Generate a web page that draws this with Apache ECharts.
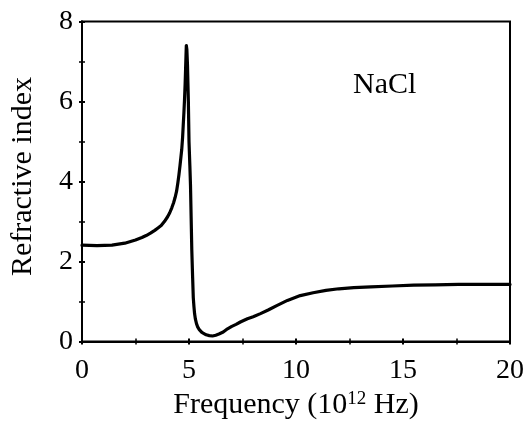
<!DOCTYPE html>
<html>
<head>
<meta charset="utf-8">
<script src="https://cdn.jsdelivr.net/npm/echarts@6/dist/echarts.min.js"></script>
<style>
html,body{margin:0;padding:0;background:#fff;}
#chart{width:527px;height:425px;}
</style>
</head>
<body>
<div id="chart"></div>
<script>
const freq = [0, 0.7, 1.4, 2.0, 2.5, 2.8, 3.0, 3.2, 3.4, 3.55, 3.7, 3.85, 4.0, 4.1, 4.2, 4.28, 4.35, 4.42, 4.48, 4.53, 4.58, 4.62, 4.66,
  4.7, 4.73, 4.76, 4.79, 4.82, 4.84, 4.86, 4.875,
  4.9, 4.93, 4.97, 5.0, 5.04, 5.07, 5.1, 5.13, 5.17, 5.2, 5.23, 5.26, 5.3, 5.35, 5.41, 5.48, 5.6, 5.8, 5.95, 6.1, 6.25, 6.4, 6.6, 6.8, 7.0, 7.2, 7.4, 7.73, 8.0, 8.34, 8.7, 9.1, 9.6,
  10.2, 10.8, 11.4, 12.0, 12.7, 13.5, 14.5, 15.5, 16.5, 17.6, 18.8, 20];
const refIndex = [2.41, 2.40, 2.41, 2.46, 2.54, 2.60, 2.65, 2.71, 2.78, 2.84, 2.90, 3.00, 3.12, 3.22, 3.35, 3.47, 3.60, 3.76, 3.97, 4.17, 4.40, 4.60, 4.80,
  5.10, 5.40, 5.70, 6.04, 6.45, 6.80, 7.15, 7.40,
  7.30, 6.90, 6.00, 5.00, 4.40, 3.90, 3.10, 2.30, 1.60, 1.10, 0.88, 0.70, 0.56, 0.45, 0.36, 0.30, 0.23, 0.17, 0.15, 0.14, 0.16, 0.19, 0.24, 0.32, 0.38, 0.43, 0.49, 0.57, 0.62, 0.70, 0.79, 0.90, 1.03,
  1.15, 1.22, 1.28, 1.32, 1.35, 1.37, 1.39, 1.41, 1.42, 1.43, 1.43, 1.43];
const xTicks = [0, 5, 10, 15, 20];
const yTicks = [0, 2, 4, 6, 8];
const xTitle = 'Frequency (10{sup|12} Hz)';
const yTitle = 'Refractive index';
const label = 'NaCl';

const FONT = '"Liberation Serif", "Times New Roman", serif';
const chart = echarts.init(document.getElementById('chart'), null, {renderer: 'canvas'});
const tickCommon = {show: true, inside: true, length: 3, lineStyle: {color: '#000', width: 2}};
const minorCommon = {show: true, splitNumber: 2, length: 3, lineStyle: {color: '#000', width: 1.5}};
chart.setOption({
  animation: false,
  backgroundColor: '#fff',
  grid: {left: 80, right: 15.5, top: 21.5, bottom: 82, show: true, borderColor: '#000', borderWidth: 2, backgroundColor: 'transparent'},
  xAxis: [{
    type: 'value', min: xTicks[0], max: xTicks[xTicks.length - 1], interval: 5, position: 'bottom',
    axisLine: {show: true, lineStyle: {color: '#000', width: 2}},
    axisTick: tickCommon, minorTick: minorCommon, splitLine: {show: false},
    axisLabel: {color: '#000', fontFamily: FONT, fontSize: 28, margin: 15},
    name: xTitle, nameLocation: 'middle', nameGap: 44,
    nameTextStyle: {color: '#000', fontFamily: FONT, fontSize: 30,
      rich: {sup: {fontFamily: FONT, fontSize: 19, verticalAlign: 'top', padding: [0, 0, 12, 0], color: '#000'}}}
  }, {
    type: 'value', min: xTicks[0], max: xTicks[xTicks.length - 1], interval: 5, position: 'top',
    axisLine: {show: true, lineStyle: {color: '#000', width: 2}},
    axisTick: tickCommon, minorTick: minorCommon, splitLine: {show: false}, axisLabel: {show: false}
  }],
  yAxis: [{
    type: 'value', min: yTicks[0], max: yTicks[yTicks.length - 1], interval: 2, position: 'left',
    axisLine: {show: true, lineStyle: {color: '#000', width: 2}},
    axisTick: tickCommon, minorTick: minorCommon, splitLine: {show: false},
    axisLabel: {color: '#000', fontFamily: FONT, fontSize: 28, margin: 9},
    name: yTitle, nameLocation: 'middle', nameGap: 44, nameRotate: 90,
    nameTextStyle: {color: '#000', fontFamily: FONT, fontSize: 30, padding: [0, 0, 0, 10]}
  }, {
    type: 'value', min: yTicks[0], max: yTicks[yTicks.length - 1], interval: 2, position: 'right',
    axisLine: {show: true, lineStyle: {color: '#000', width: 2}},
    axisTick: tickCommon, minorTick: minorCommon, splitLine: {show: false}, axisLabel: {show: false}
  }],
  graphic: [{
    type: 'text', left: 353, top: 70,
    style: {text: label, fill: '#000', font: '30px ' + FONT}
  }],
  series: [{
    type: 'line', xAxisIndex: 0, yAxisIndex: 0, showSymbol: false, smooth: false,
    data: freq.map((f, i) => [f, refIndex[i]]),
    lineStyle: {color: '#000', width: 3.2, join: 'round', cap: 'round'}
  }]
});
</script>
</body>
</html>
